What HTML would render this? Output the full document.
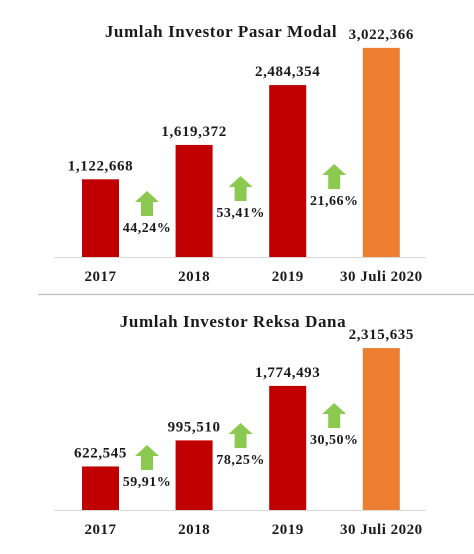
<!DOCTYPE html>
<html><head><meta charset="utf-8"><style>
body{margin:0;background:#fff;width:474px;height:549px;overflow:hidden}
svg text{font-family:"Liberation Serif",serif;font-weight:bold;fill:#1a1a1a}
</style></head><body>
<svg id="c" width="474" height="549"></svg>
<script>
const categories=["2017","2018","2019","30 Juli 2020"];
const pasarValues=[1122668,1619372,2484354,3022366];
const pasarLabels=["1,122,668","1,619,372","2,484,354","3,022,366"];
const pasarGrowth=["44,24%","53,41%","21,66%"];
const reksaValues=[622545,995510,1774493,2315635];
const reksaLabels=["622,545","995,510","1,774,493","2,315,635"];
const reksaGrowth=["59,91%","78,25%","30,50%"];
const NS="http://www.w3.org/2000/svg";
const svg=document.getElementById('c');
function mk(tag,attrs,parent){const e=document.createElementNS(NS,tag);for(const k in attrs)e.setAttribute(k,attrs[k]);(parent||svg).appendChild(e);return e;}
function chart(prefix,title,titleX,titleY,base,perPx,values,labels,growth,arrowTops){
  const g=mk('g',{});
  
  
  const t=mk('text',{x:titleX,y:titleY,'text-anchor':'middle','font-size':'17','letter-spacing':'0.6'},g);
  t.textContent=title;
  
  
  const ax=mk('line',{x1:54,x2:426,y1:base+0.5,y2:base+0.5,stroke:'#d9d9d9','stroke-width':1},g);
  
  
  const xs=i=>82+i*93.6;
  const ys=v=>base-v/perPx;
  values.forEach((v,i)=>{
    const x=xs(i),y=ys(v);
    const r=mk('rect',{x:x,y:y,width:37,height:base-y,fill:i===3?'#ed7d31':'#c00000'},g);
    
    
    const l=mk('text',{x:x+18.5,y:y-9,'text-anchor':'middle','font-size':'15','letter-spacing':'0.6'},g);
    l.textContent=labels[i];
    
    
    const c=mk('text',{x:x+18.5,y:base+24,'text-anchor':'middle','font-size':'15','letter-spacing':'0.5'},g);
    c.textContent=categories[i];
    
    
  });
  growth.forEach((p,i)=>{
    const cx=xs(i)+65,top=arrowTops[i];
    const a=mk('polygon',{points:`${cx},${top} ${cx+12},${top+11} ${cx+6},${top+11} ${cx+6},${top+25} ${cx-6},${top+25} ${cx-6},${top+11} ${cx-12},${top+11}`,fill:'#8cc950'},g);
    
    
    const tx=mk('text',{x:cx,y:top+41,'text-anchor':'middle','font-size':'14','letter-spacing':'0.5'},g);
    tx.textContent=p;
    
    
  });
}
chart('pasar-modal','Jumlah Investor Pasar Modal',221,37,257,14450,pasarValues,pasarLabels,pasarGrowth,[191,176,164]);
const sep=mk('line',{x1:38,x2:474,y1:294.5,y2:294.5,stroke:'#bfbfbf','stroke-width':1.2});


chart('reksa-dana','Jumlah Investor Reksa Dana',233,327,510,14300,reksaValues,reksaLabels,reksaGrowth,[445,423,403]);
</script>
</body></html>
